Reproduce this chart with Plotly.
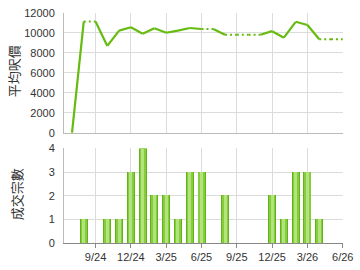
import plotly.graph_objects as go
from plotly.subplots import make_subplots

months = ["7/24", "8/24", "9/24", "10/24", "11/24", "12/24", "1/25", "2/25", "3/25",
          "4/25", "5/25", "6/25", "7/25", "8/25", "9/25", "10/25", "11/25", "12/25",
          "1/26", "2/26", "3/26", "4/26", "5/26", "6/26"]
avg_price = [0, 11150, None, 8700, 10240, 10570, 9920, 10470, 10020,
             10240, 10500, 10400, None, 9820, None, None, None, 10180,
             9530, 11120, 10800, 9370, None, None]
counts = [0, 1, 0, 1, 1, 3, 4, 2, 2, 1, 3, 3, 0, 2, 0, 0, 0, 2, 1, 3, 3, 1, 0, 0]
y1_title = "平均呎價"
y2_title = "成交宗數"

xs = list(range(len(months)))
# carry forward values for months without data
filled = []
last = None
for v in avg_price:
    if v is not None:
        last = v
    filled.append(last)

solid_x, solid_y, dot_x, dot_y = [], [], [], []
for i in range(len(xs) - 1):
    seg_x = [xs[i], xs[i + 1], None]
    seg_y = [filled[i], filled[i + 1], None]
    if avg_price[i + 1] is not None:
        solid_x += seg_x
        solid_y += seg_y
    else:
        dot_x += seg_x
        dot_y += seg_y

LINE = "#66bb11"
fig = make_subplots(rows=2, cols=1, vertical_spacing=0.07, row_heights=[0.56, 0.44])

fig.add_trace(go.Scatter(x=dot_x, y=dot_y, mode="lines",
                         line=dict(color=LINE, width=2.2, dash="2px,3px"),
                         hoverinfo="skip", showlegend=False), row=1, col=1)
fig.add_trace(go.Scatter(x=solid_x, y=solid_y, mode="lines",
                         line=dict(color=LINE, width=2.2),
                         hoverinfo="skip", showlegend=False), row=1, col=1)

for w, c in [(0.68, "#5fb514"), (0.52, "#86cc3e"), (0.26, "#b2e37c")]:
    fig.add_trace(go.Bar(x=xs, y=counts, width=w, marker=dict(color=c, line=dict(width=0)),
                         showlegend=False, hoverinfo="skip"), row=2, col=1)

tickvals = [i for i, m in enumerate(months) if m.split("/")[0] in ("3", "6", "9", "12")]
ticktext = [months[i] for i in tickvals]

grid = "#dcdcdc"
axfont = dict(family="Liberation Sans, Arial, sans-serif", size=11, color="#333333")
xcommon = dict(range=[-0.68, 23.02], tickvals=tickvals, ticktext=ticktext,
               showgrid=True, gridcolor=grid, gridwidth=1, zeroline=False,
               showline=True, linewidth=1, tickfont=axfont)
fig.update_xaxes(**xcommon, linecolor="#bbbbbb", showticklabels=False, ticks="", row=1, col=1)
fig.update_xaxes(**xcommon, linecolor="#888888", ticks="outside", ticklen=4,
                 tickcolor="#888888", row=2, col=1)

ycommon = dict(showgrid=True, gridcolor=grid, gridwidth=1, zeroline=False,
               showline=True, linecolor="#bbbbbb", linewidth=1, tickfont=axfont,
               ticks="", ticklabelstandoff=6, tickformat="d")
fig.update_yaxes(**ycommon, range=[0, 12000], dtick=2000, row=1, col=1)
fig.update_yaxes(**ycommon, range=[0, 4], dtick=1, row=2, col=1)

titlefont = dict(family="Noto Sans CJK TC, sans-serif", size=13, color="#333333")
plot_w, plot_h = 284, 236
for text, px, py in [(y1_title, 13, 67), (y2_title, 15, 193)]:
    fig.add_annotation(text=text, textangle=-90, xref="paper", yref="paper",
                       x=(px - 64) / plot_w, y=(243 - py) / plot_h,
                       xanchor="center", yanchor="middle", showarrow=False, font=titlefont)

fig.update_layout(width=360, height=270, margin=dict(l=64, r=12, t=7, b=27),
                  paper_bgcolor="white", plot_bgcolor="white", barmode="overlay",
                  bargap=0)
fig.update_layout(yaxis=dict(domain=[0.479, 1.0]), yaxis2=dict(domain=[0.0, 0.411]))

fig.write_html("out.html")
